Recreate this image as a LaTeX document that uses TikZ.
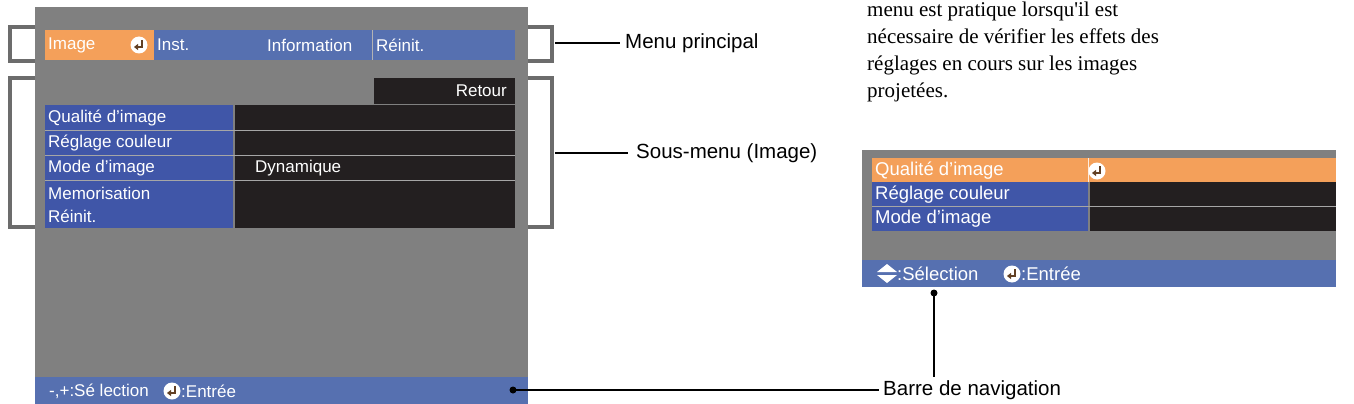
\documentclass[tikz,border=0pt]{standalone}
\usepackage{fontspec}
\usetikzlibrary{arrows.meta}
\setmainfont{Liberation Sans}
\newfontfamily\serif{Liberation Serif}
\begin{document}
\begin{tikzpicture}[x=1pt,y=-1pt,
 every node/.style={inner sep=0pt,anchor=west,text=white,font=\fontsize{17}{19}\selectfont},
 rp/.style={font=\fontsize{18.5}{20}\selectfont},
 lbl/.style={text=black,font=\fontsize{20.5}{23}\selectfont},
 brk/.style={draw=gray!85!black,line width=4pt},
 ln/.style={draw=black,line width=1.5pt}]
\definecolor{pg}{RGB}{128,128,128}
\definecolor{orn}{RGB}{244,160,90}
\definecolor{tab}{RGB}{86,112,176}
\definecolor{sub}{RGB}{64,86,168}
\definecolor{blk}{RGB}{35,31,32}
\useasboundingbox (0,0) rectangle (1354,404);
\newcommand\entericon[2]{\fill[white] (#1,#2) circle (8.5); \draw[orn!40!black,line width=2.2pt,-{Triangle[length=4pt,width=6pt]}] (#1+3,#2-5)--(#1+3,#2+2)--(#1-5,#2+2);}
% left panel
\fill[pg] (35,7) rectangle (528,404);
\fill[orn] (45,30) rectangle (154,60);
\fill[tab] (154,30) rectangle (515,60);
\draw[pg!60!white] (372,30)--(372,60);
\node at (48,45) {Image};
\entericon{139}{45}
\node at (157,45) {Inst.};
\node at (267,45) {Information};
\node at (376,45) {Réinit.};
\draw[brk] (35,27)--(10,27)--(10,61)--(35,61);
\draw[brk] (528,27)--(552,27)--(552,61)--(528,61);
\draw[brk] (35,78)--(10,78)--(10,227)--(35,227);
\draw[brk] (528,78)--(552,78)--(552,227)--(528,227);
\fill[blk] (374,78) rectangle (515,104);
\node[anchor=east] at (507,91) {Retour};
\fill[sub] (45,105) rectangle (233,228);
\fill[blk] (235,105) rectangle (515,228);
\foreach \y in {130,155,180}{\draw[pg!70!white,line width=.8pt] (45,\y)--(515,\y);}
\node at (48,118) {Qualité d'image};
\node at (48,143) {Réglage couleur};
\node at (48,168) {Mode d'image};
\node at (255,168) {Dynamique};
\node at (48,193) {Memorisation};
\node at (48,216) {Réinit.};
\fill[tab] (35,377) rectangle (528,404);
\node at (49,391) {-,+:Sé lection};
\entericon{172}{391}
\node at (181,391) {:Entrée};
% labels
\coordinate (m1) at (555,43);
\draw[ln] (m1)--(620,43);
\node[lbl] (mp) at (625,43) {Menu principal};
\draw[ln] (555,153)--(628,153);
\node[lbl] (sm) at (636,153) {Sous-menu (Image)};
\fill (513,390) circle (3.5);
\draw[ln] (513,390)--(879,390);
\node[lbl] (bn) at (883,390) {Barre de navigation};
% paragraph
\node[text=black,font=\serif\fontsize{21}{27}\selectfont,anchor=north west,align=left] at (867,2)
 {menu est pratique lorsqu'il est\\nécessaire de vérifier les effets des\\réglages en cours sur les images\\projetées.};
% right panel
\fill[pg] (862,150) rectangle (1336,287);
\fill[orn] (872,158) rectangle (1336,182);
\fill[sub] (872,182) rectangle (1088,231);
\fill[blk] (1090,182) rectangle (1336,231);
\draw[white!80!orn] (1088,158)--(1088,182);
\draw[pg!70!white] (872,206)--(1336,206);
\node[rp] at (875,171) {Qualité d'image};
\entericon{1097}{171}
\node[rp] at (875,195) {Réglage couleur};
\node[rp] at (875,219) {Mode d'image};
\fill[tab] (862,260) rectangle (1336,287);
\fill[white] (877,272)--(887,264)--(897,272)--cycle;
\fill[white] (877,275)--(887,283)--(897,275)--cycle;
\node[rp] at (897,274) {:Sélection};
\entericon{1012}{274}
\node[rp] at (1021,274) {:Entrée};
\fill (934,293) circle (3.5);
\draw[ln] (934,293)--(934,377);
\end{tikzpicture}
\end{document}
